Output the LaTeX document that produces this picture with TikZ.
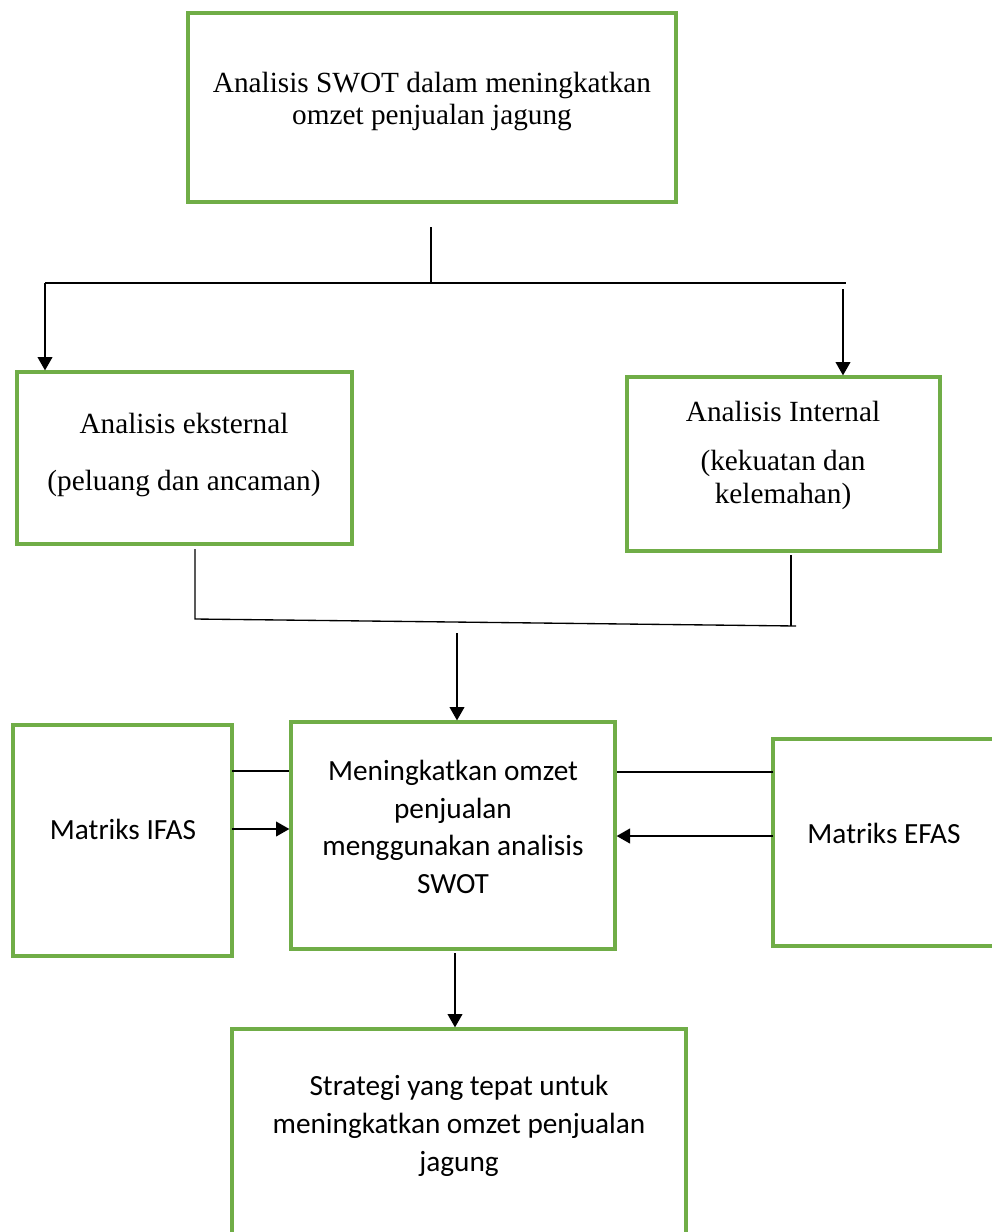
\documentclass[tikz,border=0pt]{standalone}
\usepackage{fontspec}
\setmainfont{Liberation Serif}
\newfontfamily\carlito{Carlito}
\usetikzlibrary{arrows.meta}
\definecolor{boxgreen}{HTML}{70AD47}
\def\pxu{0.41pt}

\begin{document}
\begin{tikzpicture}[x=\pxu, y=-\pxu,
    frame/.style={draw=boxgreen, line width=1.3pt, inner sep=0pt},
    serif text/.style={align=center, inner sep=0pt, font=\fontsize{12}{13.5}\selectfont},
    sans text/.style={align=center, inner sep=0pt, font=\carlito\fontsize{12}{15.5}\selectfont},
    thin line/.style={line width=0.55pt},
    flow arrow/.style={line width=0.85pt, -{Triangle[length=5.5pt, width=6pt]}}]
      \useasboundingbox (0,0) rectangle (992,1232);
      \clip (0,0) rectangle (992,1232);

      % kotak
      \node[frame, minimum width=488*\pxu, minimum height=189*\pxu] (swot) at (432,107.5) {};
      \node[frame, minimum width=335*\pxu, minimum height=172*\pxu] (ext) at (184.5,458) {};
      \node[frame, minimum width=313*\pxu, minimum height=174*\pxu] (int) at (783.5,464) {};
      \node[frame, minimum width=324*\pxu, minimum height=227*\pxu] (mid) at (453,835.5) {};
      \node[frame, minimum width=219*\pxu, minimum height=231*\pxu] (ifas) at (122.5,840.5) {};
      \node[frame, minimum width=223*\pxu, minimum height=207*\pxu] (efas) at (884.5,842.5) {};
      \node[frame, minimum width=454*\pxu, minimum height=230*\pxu] (strat) at (459,1144) {};

      % teks
      \node[serif text] (swot-t) at (432,101.5) {Analisis SWOT dalam meningkatkan\\omzet penjualan jagung};
      \node[serif text] (ext-t) at (184,455) {Analisis eksternal\\[9.9pt](peluang dan ancaman)};
      \node[serif text] (int-t) at (783,455) {Analisis Internal\\[6.6pt](kekuatan dan\\kelemahan)};
      \node[sans text] (mid-t) at (453,827) {Meningkatkan omzet\\penjualan\\menggunakan analisis\\SWOT};
      \node[sans text] (ifas-t) at (123,829) {Matriks IFAS};
      \node[sans text] (efas-t) at (884,833) {Matriks EFAS};
      \node[sans text] (strat-t) at (459,1126) {Strategi yang tepat untuk\\meningkatkan omzet penjualan\\jagung};

      % cabang atas
      \coordinate (stem) at (431,227);
      \coordinate (barL) at (45,283);
      \coordinate (barR) at (846,283);
      \coordinate (arrR) at (843,289);
      \draw[thin line] (stem) -- (stem |- barL);
      \draw[thin line] (barL) -- (barR);
      \draw[flow arrow] (barL) -- (barL |- ext.north);
      \draw[flow arrow] (arrR) -- (arrR |- int.north);

      % gabungan bawah
      \coordinate (extL) at (195,549);
      \coordinate (joinL) at (195,619);
      \coordinate (joinR) at (796,626);
      \coordinate (intL) at (791,555);
      \coordinate (down) at (457,633);
      \draw[thin line] (extL) -- (joinL) -- (joinR);
      \draw[thin line] (intL) -- (intL |- joinR);
      \draw[flow arrow] (down) -- (down |- mid.north);

      % matriks
      \coordinate (ifasU) at (232,771);
      \coordinate (ifasA) at (232,829);
      \coordinate (efasU) at (773,772);
      \coordinate (efasA) at (773,836);
      \draw[thin line] (ifasU) -- (ifasU -| mid.west);
      \draw[flow arrow] (ifasA) -- (ifasA -| mid.west);
      \draw[thin line] (efasU) -- (efasU -| mid.east);
      \draw[flow arrow] (efasA) -- (efasA -| mid.east);

      % ke strategi
      \coordinate (out) at (455,953);
      \draw[flow arrow] (out) -- (out |- strat.north);
    \end{tikzpicture}
\end{document}
